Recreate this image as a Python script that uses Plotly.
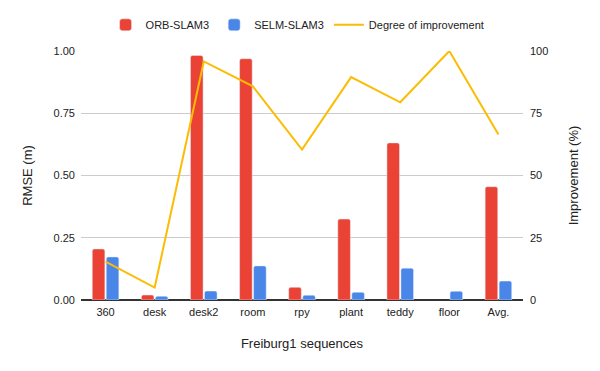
import plotly.graph_objects as go

sequences = ["360", "desk", "desk2", "room", "rpy", "plant", "teddy", "floor", "Avg."]
orb_rmse = [0.205, 0.020, 0.982, 0.969, 0.051, 0.325, 0.631, None, 0.455]
selm_rmse = [0.173, 0.015, 0.036, 0.137, 0.019, 0.031, 0.128, 0.035, 0.076]
improvement = [15.4, 5.0, 95.8, 85.8, 60.4, 89.5, 79.4, 100.0, 66.5]

red = "#EA4335"
blue = "#4A86E8"
yellow = "#FBBC04"

fig = go.Figure()
fig.add_trace(go.Bar(x=sequences, y=orb_rmse, name="ORB-SLAM3", marker_color=red))
fig.add_trace(go.Bar(x=sequences, y=selm_rmse, name="SELM-SLAM3", marker_color=blue))
fig.add_trace(go.Scatter(
    x=sequences, y=improvement, name="Degree of improvement",
    mode="lines", line=dict(color=yellow, width=2), yaxis="y2"
))

# page body has an 8px margin, so the plot box is shifted up/left to compensate
fig.update_layout(
    width=600, height=371,
    margin=dict(l=73, r=85, t=43, b=79, autoexpand=False),
    paper_bgcolor="white", plot_bgcolor="white",
    font=dict(family="Liberation Sans, Arial, sans-serif", size=11, color="#222222"),
    barmode="group", bargap=0.43, bargroupgap=0.1, barcornerradius=2,
    legend=dict(orientation="h", x=0.49, xanchor="center", y=1.105, yanchor="middle",
                font=dict(size=11), itemwidth=30),
    xaxis=dict(
        title=dict(text="Freiburg1 sequences", standoff=21),
        showgrid=False, showline=False, ticks="", ticklabelstandoff=4, automargin=False,
    ),
    yaxis=dict(
        title=dict(text="RMSE (m)", standoff=18),
        range=[0, 1.0], tickvals=[0, 0.25, 0.5, 0.75, 1.0], tickformat=".2f",
        gridcolor="#CCCCCC", zeroline=True, zerolinecolor="#333333", zerolinewidth=1.5,
        ticks="", ticklabelstandoff=5, automargin=False,
    ),
    yaxis2=dict(
        title=dict(text="Improvement (%)", standoff=21),
        overlaying="y", side="right",
        range=[0, 100], tickvals=[0, 25, 50, 75, 100],
        showgrid=False, zeroline=False, ticks="", ticklabelstandoff=6, automargin=False,
    ),
)

fig.write_html("out.html")
